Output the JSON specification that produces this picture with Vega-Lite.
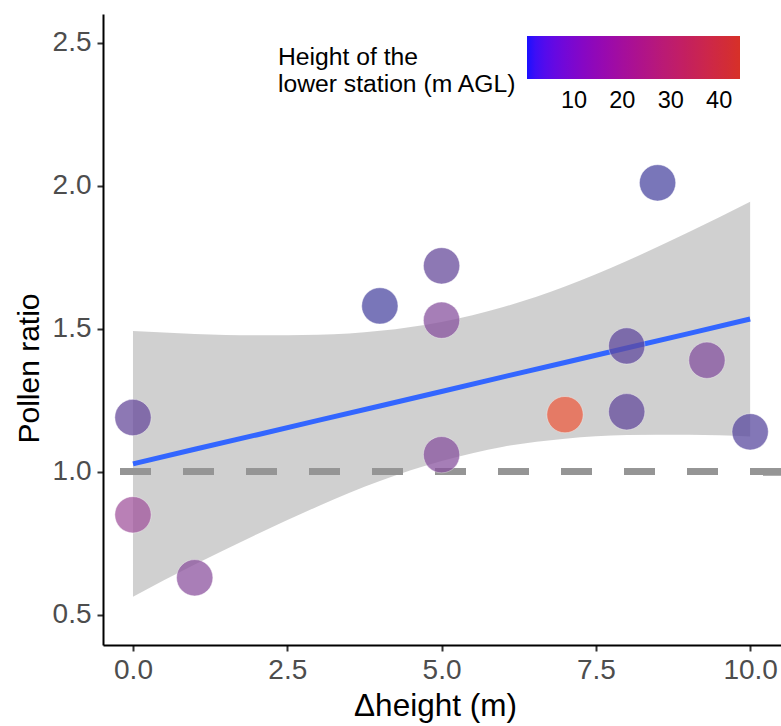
{
  "$schema": "https://vega.github.io/schema/vega-lite/v6.json",
  "width": 678,
  "height": 631,
  "autosize": {"type": "none"},
  "padding": {"left": 103, "top": 14, "right": 0, "bottom": 81},
  "background": "white",
  "config": {
    "view": {"stroke": null},
    "font": "Liberation Sans",
    "axis": {
      "grid": false,
      "domainColor": "#000000",
      "domainWidth": 2,
      "tickColor": "#333333",
      "tickWidth": 2,
      "tickSize": 6,
      "labelColor": "#4d4d4d",
      "labelFontSize": 28,
      "labelFont": "Liberation Sans",
      "titleFont": "Liberation Sans",
      "titleFontSize": 31.5,
      "titleFontWeight": "normal",
      "titleColor": "#000000"
    }
  },
  "datasets": {
    "pts": [
      {"dh": 0, "ratio": 1.19, "h": 14},
      {"dh": 0, "ratio": 0.85, "h": 26},
      {"dh": 1, "ratio": 0.63, "h": 22},
      {"dh": 4, "ratio": 1.58, "h": 5},
      {"dh": 5, "ratio": 1.72, "h": 14},
      {"dh": 5, "ratio": 1.53, "h": 21},
      {"dh": 5, "ratio": 1.06, "h": 21},
      {"dh": 7, "ratio": 1.20, "h": 42},
      {"dh": 8, "ratio": 1.44, "h": 11},
      {"dh": 8, "ratio": 1.21, "h": 13},
      {"dh": 8.5, "ratio": 2.01, "h": 5},
      {"dh": 9.3, "ratio": 1.39, "h": 20},
      {"dh": 10, "ratio": 1.14, "h": 9}
    ],
    "band": [
      {"dh": 0, "fit": 1.028, "lo": 0.564, "hi": 1.492},
      {"dh": 1, "fit": 1.079, "lo": 0.676, "hi": 1.482},
      {"dh": 2, "fit": 1.129, "lo": 0.781, "hi": 1.477},
      {"dh": 3, "fit": 1.180, "lo": 0.880, "hi": 1.479},
      {"dh": 4, "fit": 1.230, "lo": 0.968, "hi": 1.493},
      {"dh": 5, "fit": 1.281, "lo": 1.038, "hi": 1.524},
      {"dh": 6, "fit": 1.332, "lo": 1.088, "hi": 1.576},
      {"dh": 7, "fit": 1.382, "lo": 1.116, "hi": 1.648},
      {"dh": 8, "fit": 1.433, "lo": 1.129, "hi": 1.737},
      {"dh": 9, "fit": 1.483, "lo": 1.130, "hi": 1.837},
      {"dh": 10, "fit": 1.534, "lo": 1.124, "hi": 1.944}
    ]
  },
  "encoding": {
    "x": {
      "field": "dh", "type": "quantitative",
      "scale": {"domain": [-0.486, 10.5], "nice": false, "zero": false},
      "axis": {"values": [0, 2.5, 5, 7.5, 10], "format": ".1f", "title": "Δheight (m)", "labelPadding": 5, "titlePadding": 6, "titleX": 332}
    }
  },
  "layer": [
    {
      "data": {"name": "band"},
      "mark": {"type": "area", "fill": "#999999", "opacity": 0.46, "interpolate": "monotone"},
      "encoding": {
        "y": {"field": "lo", "type": "quantitative",
          "scale": {"domain": [0.395, 2.6], "nice": false, "zero": false},
          "axis": {"values": [0.5, 1, 1.5, 2, 2.5], "format": ".1f", "title": "Pollen ratio", "labelPadding": 6,
            "titleFontSize": 30, "titleAngle": 270, "titleX": -65, "titleY": 354, "titleAlign": "center", "titleBaseline": "alphabetic"}},
        "y2": {"field": "hi"}
      }
    },
    {
      "data": {"name": "band"},
      "mark": {"type": "rule", "color": "#959595", "strokeWidth": 6.5, "strokeDash": [31, 32]},
      "encoding": {"y": {"datum": 1, "type": "quantitative"}, "x": null}
    },
    {
      "data": {"name": "band"},
      "mark": {"type": "line", "color": "#3366ff", "strokeWidth": 5},
      "encoding": {"y": {"field": "fit", "type": "quantitative"}}
    },
    {
      "data": {"name": "pts"},
      "mark": {"type": "point", "filled": true, "shape": "circle", "size": 1320, "opacity": 0.75, "stroke": "#ffffff", "strokeOpacity": 0.45, "strokeWidth": 1},
      "encoding": {
        "y": {"field": "ratio", "type": "quantitative"},
        "fill": {"field": "h", "type": "quantitative",
          "scale": {"domain": [0.3, 14, 25, 44.3], "range": ["#3a48a4", "#684b9c", "#9a58a0", "#ea6a2c"]},
          "legend": null}
      }
    },
    {
      "data": {"name": "pts"},
      "mark": {"type": "point", "filled": true, "shape": "circle", "size": 10, "opacity": 0},
      "encoding": {
        "y": {"field": "ratio", "type": "quantitative"},
        "color": {"field": "h", "type": "quantitative",
          "scale": {"domain": [0.3, 44.3], "range": ["#1a10ff", "#d73027"], "interpolate": "lab"},
          "legend": {
            "orient": "none", "legendX": 175, "legendY": 22,
            "direction": "horizontal",
            "title": ["", "Height of the", "lower station (m AGL)"],
            "titleOrient": "left", "titleFontSize": 24.7, "titleFontWeight": "normal", "titleColor": "#000000",
            "titleFont": "Liberation Sans", "titleLineHeight": 27, "titlePadding": 10, "titleLimit": 500,
            "titleAnchor": "middle", "titleBaseline": "middle", "titleAlign": "left",
            "gradientLength": 213, "gradientThickness": 43, "gradientStrokeWidth": 0,
            "values": [10, 20, 30, 40], "labelFontSize": 23.5, "labelColor": "#000000", "labelFont": "Liberation Sans", "labelOverlap": false, "labelOffset": 10
          }
        }
      }
    }
  ],
  "resolve": {"scale": {"y": "shared"}}
}
